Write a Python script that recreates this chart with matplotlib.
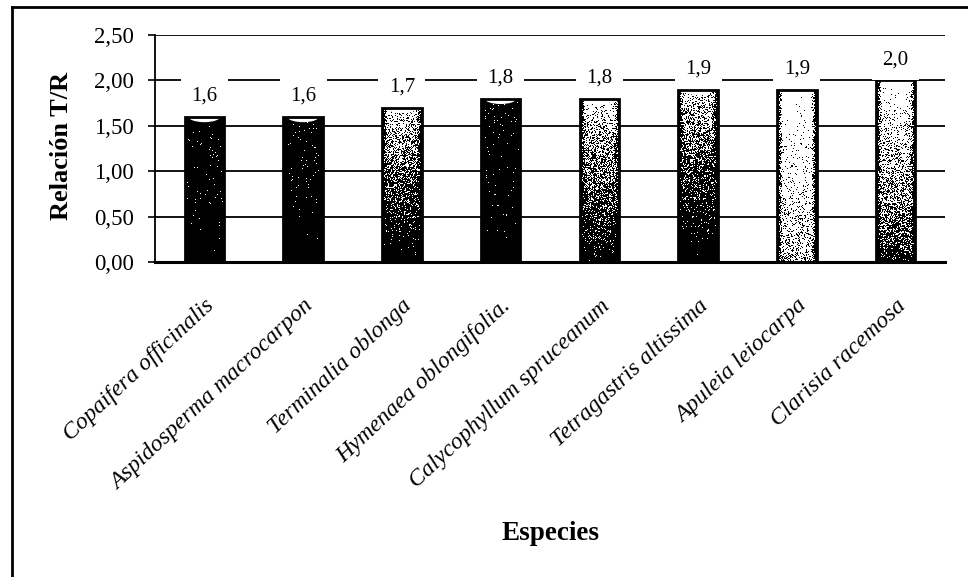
import numpy as np
import matplotlib.pyplot as plt
from matplotlib.patches import Ellipse
from matplotlib.lines import Line2D

species = ["Copaifera officinalis", "Aspidosperma macrocarpon", "Terminalia oblonga",
           "Hymenaea oblongifolia.", "Calycophyllum spruceanum", "Tetragastris altissima",
           "Apuleia leiocarpa", "Clarisia racemosa"]
ratio = [1.6, 1.6, 1.7, 1.8, 1.8, 1.9, 1.9, 2.0]
labels = ["1,6", "1,6", "1,7", "1,8", "1,8", "1,9", "1,9", "2,0"]
yticks = [0.0, 0.5, 1.0, 1.5, 2.0, 2.5]
ytick_labels = ["0,00", "0,50", "1,00", "1,50", "2,00", "2,50"]

# grey level at top / bottom of each column and how fast it darkens
shade_top = [0.03, 0.03, 0.9, 0.03, 0.95, 0.85, 1.0, 1.0]
shade_bottom = [0.0, 0.0, 0.0, 0.0, 0.02, 0.0, 0.6, 0.0]
shade_gamma = [1.0, 1.0, 1.6, 1.0, 1.3, 1.8, 0.4, 0.6]

serif = "Liberation Serif"
fig = plt.figure(figsize=(9.68, 5.77), dpi=100)
ax = fig.add_axes([0.1601, 0.5459, 0.8161, 0.3934])

x = np.arange(len(species))
width = 0.4
bars = ax.bar(x, ratio, width, color="none", edgecolor="black", linewidth=2, zorder=3)

rng = np.random.default_rng(7)
for i, (b, v) in enumerate(zip(bars, ratio)):
    h_px, w_px = int(v * 91), 40
    t = np.linspace(1, 0, h_px)[:, None]
    g = shade_bottom[i] + (shade_top[i] - shade_bottom[i]) * t ** shade_gamma[i]
    u = np.linspace(-1, 1, w_px)[None, :]
    g = g * (1 - 0.95 * np.clip((np.abs(u) - 0.75) / 0.2, 0, 1))
    dots = (g > rng.random((h_px, w_px))).astype(float)
    im = ax.imshow(dots, cmap="gray", vmin=0, vmax=1, interpolation="nearest",
                   extent=(i - width / 2, i + width / 2, 0, v), aspect="auto", zorder=2)
    im.set_clip_path(b)
    cap = Ellipse((i, v), width * 0.8, 0.12, facecolor="white", edgecolor="none", zorder=2.5)
    ax.add_patch(cap)
    cap.set_clip_path(b)
    ax.annotate(labels[i], (i, v), xytext=(0, 15), textcoords="offset points",
                ha="center", va="center", fontsize=15, family=serif, zorder=4,
                bbox=dict(boxstyle="square,pad=0.5", fc="white", ec="none"))

ax.set_xlim(-0.5, len(species) - 0.5)
ax.set_ylim(0, 2.5)
ax.set_yticks(yticks)
ax.set_yticklabels(ytick_labels, family=serif, fontsize=16.5)
ax.yaxis.grid(True, color="black", linewidth=1.3)
ax.set_axisbelow(True)
ax.tick_params(axis="y", length=5, width=1.2, pad=10)
ax.tick_params(axis="x", length=0, pad=24)
ax.set_xticks(x)
ax.set_xticklabels(species, rotation=43, ha="right", rotation_mode="anchor",
                   family=serif, style="italic", fontsize=17)
for s in ["top", "right"]:
    ax.spines[s].set_visible(False)
ax.spines["left"].set_linewidth(1.3)
ax.spines["bottom"].set_linewidth(2.2)

fig.text(62 / 968, 1 - 146 / 577, "Relación T/R", rotation=90, ha="center", va="center",
         family=serif, fontweight="bold", fontsize=19)
fig.text(551 / 968, 1 - 533 / 577, "Especies", ha="center", va="center",
         family=serif, fontweight="bold", fontsize=19.5)

# chart frame
fig.add_artist(Line2D([12 / 968, 1], [1 - 7 / 577] * 2, color="black", linewidth=2))
fig.add_artist(Line2D([12 / 968] * 2, [0, 1 - 7 / 577], color="black", linewidth=2))

fig.savefig("out.png", dpi=100)
